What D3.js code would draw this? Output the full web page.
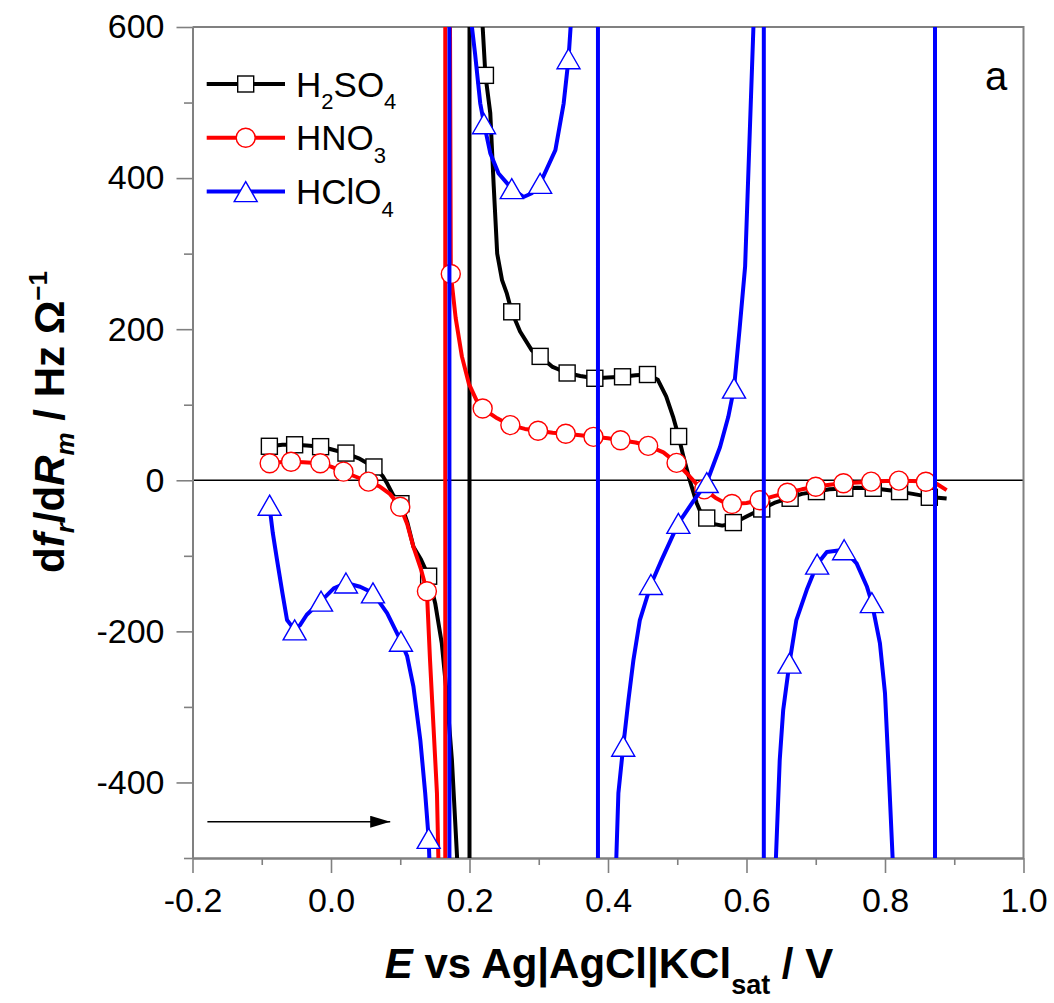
<!DOCTYPE html>
<html>
<head>
<meta charset="utf-8">
<script src="https://cdn.jsdelivr.net/npm/d3@7"></script>
<style>
  body { margin: 0; background: #fff; }
  svg { display: block; font-family: "Liberation Sans", Arial, sans-serif; }
</style>
</head>
<body>
<script>
// Tick values
const xMajor = [-0.2, 0.0, 0.2, 0.4, 0.6, 0.8, 1.0];
const xMinor = [-0.1, 0.1, 0.3, 0.5, 0.7, 0.9];
const yMajor = [-400, -200, 0, 200, 400, 600];
const yMinor = [-500, -300, -100, 100, 300, 500];

// H2SO4 curve (values beyond the axis range are the off-scale points across the poles)
const h2so4Curve = [
  [-0.089, 45], [-0.07, 47], [-0.053, 47], [-0.035, 46], [-0.015, 44.5], [0.0, 41], [0.021, 36],
  [0.04, 29], [0.062, 17.6], [0.075, 5], [0.081, -4], [0.09, -20], [0.101, -31], [0.11, -55],
  [0.119, -88], [0.13, -105], [0.141, -127], [0.1505, -163], [0.16, -216], [0.167, -282],
  [0.1746, -370], [0.182, -498], [0.186, -650], [0.2, -30000], [0.2, 30000], [0.212, 1200],
  [0.219, 600], [0.223, 536], [0.23, 486], [0.235, 389], [0.24, 300], [0.247, 265], [0.254, 247],
  [0.261, 223], [0.273, 197], [0.29, 172], [0.302, 164], [0.32, 150], [0.341, 142], [0.36, 138],
  [0.381, 135], [0.40, 136], [0.421, 137], [0.44, 139], [0.457, 140], [0.472, 133], [0.484, 111],
  [0.494, 84], [0.502, 58], [0.509, 31], [0.518, 0], [0.528, -30], [0.535, -45], [0.5426, -52],
  [0.552, -58], [0.565, -60], [0.581, -57], [0.60, -48], [0.622, -38], [0.64, -30], [0.663, -23],
  [0.68, -18], [0.701, -15], [0.72, -12], [0.742, -11], [0.76, -10], [0.783, -10.6], [0.80, -12.5],
  [0.821, -15], [0.84, -18], [0.864, -22], [0.889, -24]
];
const h2so4Marks = [
  [-0.089, 45], [-0.0525, 47], [-0.015, 44.5], [0.0216, 36], [0.062, 17.6], [0.101, -31],
  [0.141, -127], [0.223, 536], [0.261, 223], [0.302, 164], [0.341, 142], [0.381, 135],
  [0.421, 137], [0.457, 140], [0.502, 58], [0.5426, -50], [0.581, -56], [0.622, -38],
  [0.663, -23.8], [0.701, -15], [0.742, -10.6], [0.783, -10.6], [0.821, -15], [0.864, -22.5]
];

// HNO3 curve
const hno3Curve = [
  [-0.089, 22], [-0.075, 24], [-0.058, 24.6], [-0.04, 24], [-0.016, 22.5], [0.0, 18], [0.018, 11.4],
  [0.035, 5], [0.054, -2], [0.07, -8], [0.085, -18], [0.1, -35], [0.11, -58], [0.119, -88],
  [0.13, -118], [0.1385, -147], [0.143, -238], [0.148, -326], [0.153, -414], [0.155, -498],
  [0.158, -620], [0.165, -30000], [0.165, 30000], [0.1715, 700], [0.173, 273], [0.18, 215],
  [0.189, 164], [0.199, 128], [0.21, 106], [0.219, 95], [0.24, 82], [0.259, 73], [0.28, 68],
  [0.299, 65.5], [0.32, 63], [0.339, 61.5], [0.36, 59.5], [0.379, 57.5], [0.40, 55.5], [0.418, 53],
  [0.44, 50], [0.458, 45.5], [0.48, 37], [0.499, 23], [0.515, 8], [0.527, -4], [0.539, -12],
  [0.555, -23], [0.567, -29], [0.579, -31.5], [0.60, -30], [0.619, -26.5], [0.64, -21],
  [0.659, -16.5], [0.68, -12], [0.70, -8.5], [0.72, -6], [0.74, -4], [0.76, -2.8], [0.78, -1.8],
  [0.80, -1], [0.82, -0.5], [0.84, -1], [0.859, -2], [0.875, -5], [0.889, -13]
];
const hno3Marks = [
  [-0.0886, 22.5], [-0.0577, 24.6], [-0.0155, 22.5], [0.018, 11.4], [0.054, -1.8], [0.1, -35],
  [0.1385, -147], [0.173, 273], [0.219, 95], [0.259, 73], [0.299, 65.5], [0.339, 61.5],
  [0.379, 57.5], [0.418, 53], [0.458, 45.5], [0.499, 23], [0.539, -12], [0.579, -31.5],
  [0.619, -26.5], [0.659, -16.5], [0.70, -8.5], [0.74, -4], [0.78, -1.8], [0.82, -0.5], [0.859, -2]
];

// HClO4 curve
const hclo4Curve = [
  [-0.089, -33], [-0.084, -70], [-0.078, -105], [-0.07, -150], [-0.0635, -185], [-0.0525, -198],
  [-0.045, -192], [-0.035, -178], [-0.0144, -160], [0.004, -143], [0.0216, -136], [0.042, -141],
  [0.0606, -149], [0.081, -176], [0.101, -213], [0.11, -233], [0.119, -273], [0.129, -344],
  [0.136, -414], [0.141, -474], [0.142, -500], [0.146, -900], [0.171, -30000], [0.171, 30000],
  [0.198, 1500], [0.2035, 600], [0.208, 565], [0.2155, 499], [0.221, 472], [0.23, 433],
  [0.242, 406], [0.261, 386], [0.278, 375], [0.29, 380], [0.302, 393], [0.324, 437], [0.336, 499],
  [0.343, 558], [0.346, 600], [0.352, 900], [0.3855, 30000], [0.3855, -30000], [0.405, -1200],
  [0.412, -500], [0.415, -414], [0.422, -352], [0.4295, -291], [0.4367, -238], [0.446, -185],
  [0.462, -138], [0.4776, -105], [0.5016, -57], [0.523, -28], [0.5426, -3], [0.5618, 44],
  [0.5737, 84], [0.582, 122], [0.59, 200], [0.598, 283], [0.61, 600], [0.614, 900],
  [0.625, 30000], [0.625, -30000], [0.638, -900], [0.6425, -500], [0.648, -370], [0.653, -304],
  [0.662, -242], [0.672, -185], [0.687, -145], [0.702, -111], [0.716, -95], [0.741, -92],
  [0.759, -110], [0.774, -141], [0.781, -162], [0.7927, -216], [0.80, -282], [0.8046, -370],
  [0.811, -500], [0.815, -900], [0.8722, -30000], [0.8722, 30000], [0.889, 3000]
];
const hclo4Marks = [
  [-0.0886, -33], [-0.0525, -198], [-0.0144, -160], [0.0216, -136], [0.0606, -149], [0.101, -213],
  [0.141, -474], [0.221, 472], [0.261, 386], [0.302, 393], [0.343, 558], [0.422, -352],
  [0.462, -138], [0.5016, -57], [0.5426, -3], [0.582, 122], [0.662, -242], [0.702, -111],
  [0.741, -92], [0.781, -162]
];

// Legend labels: [text, isSubscript]
const seriesNames = [
  [["H", false], ["2", true], ["SO", false], ["4", true]],
  [["HNO", false], ["3", true]],
  [["HClO", false], ["4", true]]
];
const seriesColors = ["#000000", "#ff0000", "#0000ff"];
const seriesSymbols = ["square", "circle", "triangle"];

const series = [
  { curve: h2so4Curve, marks: h2so4Marks },
  { curve: hno3Curve, marks: hno3Marks },
  { curve: hclo4Curve, marks: hclo4Marks }
].map((s, i) => ({ ...s, name: seriesNames[i], color: seriesColors[i], symbol: seriesSymbols[i] }));

// Direction arrow (data units)
const arrowFrom = [-0.1785, -452];
const arrowTo = [0.0855, -452];

// Dimensions
const width = 1054;
const height = 1003;
const plot = { left: 192.5, right: 1023.5, top: 27, bottom: 858 };
const axisGray = "#808080";

const svg = d3.select("body")
    .append("svg")
    .attr("width", width)
    .attr("height", height);

const x = d3.scaleLinear().domain([-0.2, 1.0]).range([plot.left, plot.right]);
const y = d3.scaleLinear().domain([-500, 600]).range([plot.bottom, plot.top]);

const defs = svg.append("defs");
defs.append("clipPath").attr("id", "clip")
    .append("rect")
    .attr("x", plot.left).attr("y", plot.top)
    .attr("width", plot.right - plot.left).attr("height", plot.bottom - plot.top);

defs.append("marker")
    .attr("id", "arrowhead")
    .attr("markerUnits", "userSpaceOnUse")
    .attr("markerWidth", 22).attr("markerHeight", 14)
    .attr("refX", 20).attr("refY", 6)
    .attr("orient", "auto")
    .append("path")
    .attr("d", "M0,0L20,6L0,12Z")
    .attr("fill", "#000");

// Zero line
svg.append("line")
    .attr("x1", plot.left).attr("x2", plot.right)
    .attr("y1", y(0)).attr("y2", y(0))
    .attr("stroke", "#000").attr("stroke-width", 1.3);

// Axes
function styleAxis(g) {
    g.attr("color", axisGray);
    g.select(".domain").attr("stroke-width", 2);
    g.selectAll(".tick line").attr("stroke-width", 1.6);
    g.selectAll(".tick text").attr("fill", "#000");
}

svg.append("g")
    .attr("transform", `translate(0,${plot.bottom})`)
    .call(d3.axisBottom(x).tickValues(xMinor).tickSize(7).tickSizeOuter(0).tickFormat(""))
    .call(styleAxis);
svg.append("g")
    .attr("transform", `translate(0,${plot.bottom})`)
    .call(d3.axisBottom(x).tickValues(xMajor).tickSize(15).tickSizeOuter(0).tickPadding(15)
        .tickFormat(d => d.toFixed(1)))
    .attr("font-size", 34).attr("font-family", null)
    .call(styleAxis);

svg.append("g")
    .attr("transform", `translate(${plot.left},0)`)
    .call(d3.axisLeft(y).tickValues(yMinor).tickSize(8.5).tickSizeOuter(0).tickFormat(""))
    .call(styleAxis);
svg.append("g")
    .attr("transform", `translate(${plot.left},0)`)
    .call(d3.axisLeft(y).tickValues(yMajor).tickSize(16).tickSizeOuter(0).tickPadding(12)
        .tickFormat(d => String(d)))
    .attr("font-size", 34).attr("font-family", null)
    .call(styleAxis);

// Top and right frame
svg.append("path")
    .attr("d", `M${plot.left},${plot.top}H${plot.right}V${plot.bottom}`)
    .attr("fill", "none").attr("stroke", axisGray).attr("stroke-width", 2);

// Series
const line = d3.line().x(d => x(d[0])).y(d => y(d[1]));

function drawSymbol(g, type, cx, cy, color) {
    if (type === "circle") {
        g.append("circle").attr("cx", cx).attr("cy", cy).attr("r", 9.5)
            .attr("fill", "#fff").attr("stroke", color).attr("stroke-width", 1.4);
    } else if (type === "square") {
        g.append("rect").attr("x", cx - 8).attr("y", cy - 8).attr("width", 16).attr("height", 16)
            .attr("fill", "#fff").attr("stroke", color).attr("stroke-width", 1.4);
    } else {
        g.append("path")
            .attr("d", `M${cx},${cy - 10}L${cx + 11.5},${cy + 10}L${cx - 11.5},${cy + 10}Z`)
            .attr("fill", "#fff").attr("stroke", color).attr("stroke-width", 1.4);
    }
}

series.forEach(s => {
    const g = svg.append("g");
    g.append("path")
        .datum(s.curve)
        .attr("clip-path", "url(#clip)")
        .attr("d", line)
        .attr("fill", "none")
        .attr("stroke", s.color)
        .attr("stroke-width", 4)
        .attr("stroke-linejoin", "round");
    s.marks.forEach(d => drawSymbol(g, s.symbol, x(d[0]), y(d[1]), s.color));
});

// Arrow
svg.append("line")
    .attr("x1", x(arrowFrom[0])).attr("y1", y(arrowFrom[1]))
    .attr("x2", x(arrowTo[0])).attr("y2", y(arrowTo[1]))
    .attr("stroke", "#000").attr("stroke-width", 1.5)
    .attr("marker-end", "url(#arrowhead)");

// Legend
const legend = svg.append("g");
series.forEach((s, i) => {
    const ly = 84 + i * 53.8;
    legend.append("line")
        .attr("x1", 206.7).attr("x2", 285).attr("y1", ly).attr("y2", ly)
        .attr("stroke", s.color).attr("stroke-width", 4);
    drawSymbol(legend, s.symbol, 245.7, ly, s.color);
    const t = legend.append("text")
        .attr("x", 296).attr("y", ly + 12.6)
        .attr("font-size", 35).attr("fill", "#000");
    let shifted = false;
    s.name.forEach(([txt, sub]) => {
        const ts = t.append("tspan").text(txt);
        if (sub && !shifted) { ts.attr("dy", 12.6).attr("font-size", 22); shifted = true; }
        else if (!sub && shifted) { ts.attr("dy", -12.6); shifted = false; }
        else if (sub) ts.attr("font-size", 22);
    });
});

// Panel letter
svg.append("text")
    .attr("x", 985).attr("y", 90)
    .attr("font-size", 40).attr("fill", "#000")
    .text("a");

// X axis title
const xt = svg.append("text")
    .attr("x", (plot.left + plot.right) / 2 + 1).attr("y", 978)
    .attr("text-anchor", "middle")
    .attr("font-size", 42).attr("font-weight", "bold").attr("fill", "#000");
xt.append("tspan").attr("font-style", "italic").text("E");
xt.append("tspan").text(" vs Ag|AgCl|KCl");
xt.append("tspan").attr("font-size", 27).attr("dy", 16).text("sat");
xt.append("tspan").attr("dy", -16).text(" / V");

// Y axis title
const yt = svg.append("text")
    .attr("transform", "translate(64,422) rotate(-90)")
    .attr("text-anchor", "middle")
    .attr("font-size", 42).attr("font-weight", "bold").attr("fill", "#000");
yt.append("tspan").text("d");
yt.append("tspan").attr("font-style", "italic").text("f");
yt.append("tspan").attr("font-size", 26).attr("font-style", "italic").attr("dy", 10).text("r");
yt.append("tspan").attr("dy", -10).text("/d");
yt.append("tspan").attr("font-style", "italic").text("R");
yt.append("tspan").attr("font-size", 26).attr("font-style", "italic").attr("dy", 10).text("m");
yt.append("tspan").attr("dy", -10).text(" / Hz \u03A9");
yt.append("tspan").attr("font-size", 26).attr("dy", -17).text("\u22121");
</script>
</body>
</html>
